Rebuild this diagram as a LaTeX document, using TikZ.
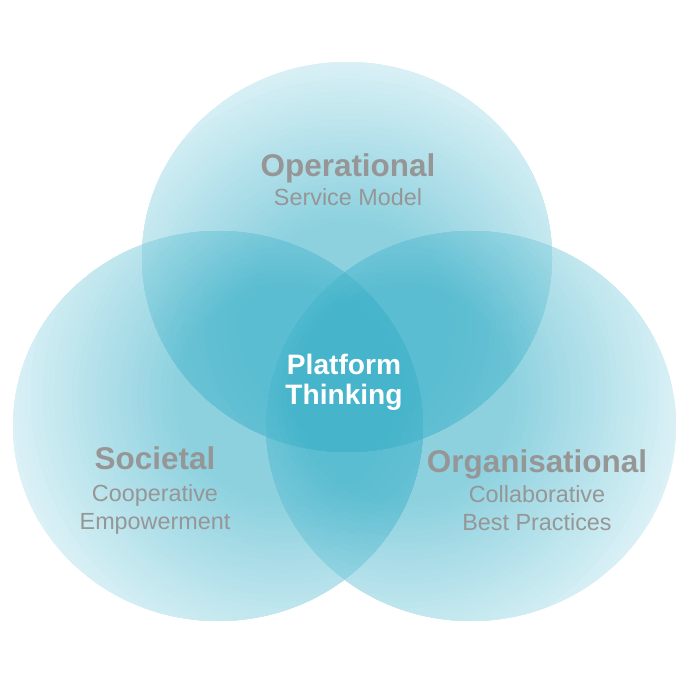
\documentclass[tikz,border=0pt]{standalone}
\usepackage{fontspec}
\setmainfont{Liberation Sans}
\usetikzlibrary{positioning}
\definecolor{venncore}{RGB}{52,173,198}
\definecolor{vennpale}{RGB}{200,234,242}
\definecolor{labelgray}{RGB}{150,150,150}

\begin{document}
\begin{tikzpicture}[
    ring/.style={transparency group, opacity=0.56},
    title/.style={font=\bfseries\fontsize{17.9}{20}\selectfont, text=labelgray, inner sep=0pt, anchor=base},
    subtitle/.style={font=\fontsize{13.3}{16}\selectfont, text=labelgray, inner sep=0pt, anchor=base},
    core/.style={font=\bfseries\fontsize{16}{19}\selectfont, text=white, inner sep=0pt, anchor=base}]
  \useasboundingbox (0,0) rectangle (14,14);

  % three overlapping rings, each glowing towards the middle
  \foreach \cx/\cy/\gx/\gy/\R in {6.94/8.86/6.94/7.5/5.6, 4.36/5.48/5.7/6.1/5.8, 9.42/5.48/8.1/6.1/5.8} {
    \begin{scope}[ring]
      \clip (\cx,\cy) ellipse [x radius=4.1, y radius=3.9];
      \foreach \k in {0,...,48} {
        \pgfmathsetmacro\f{1-\k/49}
        \pgfmathsetmacro\p{max(0,min(100,100*(1-\f)/0.62))}
        \fill[venncore!\p!vennpale] (\gx,\gy) circle ({\R*\f});
      }
    \end{scope}
  }

  % labels
  \node[title] (opTitle) at (6.96,10.46) {Operational};
  \node[subtitle] (opSub) at ([yshift=-0.58cm]opTitle.base) {Service Model};

  \node[title] (socTitle) at (3.10,4.60) {Societal};
  \node[subtitle] (socSub) at ([yshift=-0.64cm]socTitle.base) {Cooperative};
  \node[subtitle] (socSubb) at ([yshift=-0.56cm]socSub.base) {Empowerment};

  \node[title] (orgTitle) at (10.74,4.54) {Organisational};
  \node[subtitle] (orgSub) at ([yshift=-0.60cm]orgTitle.base) {Collaborative};
  \node[subtitle] (orgSubb) at ([yshift=-0.56cm]orgSub.base) {Best Practices};

  \node[core] (coreTop) at (6.88,6.50) {Platform};
  \node[core] (coreBot) at ([yshift=-0.60cm]coreTop.base) {Thinking};
\end{tikzpicture}
\end{document}
